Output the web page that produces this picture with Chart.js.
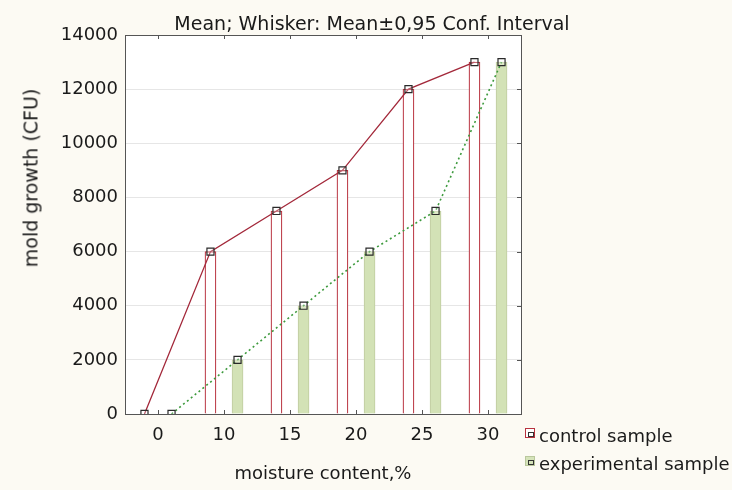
<!DOCTYPE html>
<html>
<head>
<meta charset="utf-8">
<script src="https://cdn.jsdelivr.net/npm/chart.js@4/dist/chart.umd.min.js"></script>
<style>
    html, body { margin: 0; padding: 0; background: #fcfaf3; }
    #wrap { position: relative; width: 732px; height: 490px; font-family: 'DejaVu Sans', sans-serif; color: #1a1a1a; overflow: hidden; }
    #chart { position: absolute; left: 0; top: 0; }
    .lbl { position: absolute; white-space: nowrap; font-size: 18px; line-height: 1; }
    #title { left: 372px; top: 14px; transform: translateX(-50%); font-size: 19px; }
    #xTitle { left: 323px; top: 464px; transform: translateX(-50%); }
    #yTitle { left: 31px; top: 178px; transform: translate(-50%, -50%) rotate(-90deg); font-size: 19px; }
    .leg { position: absolute; left: 525px; white-space: nowrap; font-size: 18px; line-height: 1; }
    .leg .box { position: absolute; left: 0; top: 1px; width: 10px; height: 10px; box-sizing: border-box; border: 1px solid; }
    .leg .box i { position: absolute; left: 1.5px; top: 2.5px; width: 4px; height: 3px; border: 1px solid #333; }
    .leg span.t { position: absolute; left: 14px; top: 0; }
</style>
</head>
<body>
<div id="wrap">
    <canvas id="chart" width="732" height="490"></canvas>
    <div class="lbl" id="title">Mean; Whisker: Mean±0,95 Conf. Interval</div>
    <div class="lbl" id="xTitle">moisture content,%</div>
    <div class="lbl" id="yTitle">mold growth (CFU)</div>
    <div class="leg" style="top:427px"><div class="box" style="background:#fff;border-color:#b8323f"><i></i></div><span class="t">control sample</span></div>
    <div class="leg" style="top:455px"><div class="box" style="background:#d5e3b9;border-color:#b9c79c"><i></i></div><span class="t">experimental sample</span></div>
</div>
<script>
// ===== Data =====
const moisture = ['0', '10', '15', '20', '25', '30'];
const controlSample = [0, 6000, 7500, 9000, 12000, 13000];
const experimentalSample = [0, 2000, 4000, 6000, 7500, 13000];
const yTicks = [0, 2000, 4000, 6000, 8000, 10000, 12000, 14000];

// ===== Layout =====
const SHIFT = 0.205;   // bar centre offset from the category centre (category units)
const BAR_W = 11;      // bar thickness in px

const FONT = { family: "'DejaVu Sans', sans-serif", size: 18 };

// bars + lines sit on a hidden linear axis so both series line up with each other
const toPoints = (vals, dir) => vals.map((v, i) => ({ x: i + dir * SHIFT, y: v }));

// ===== Plugins =====
const plotFrame = {
    id: 'plotFrame',
    beforeDraw(chart) {
        const { ctx, chartArea: a } = chart;
        ctx.save();
        ctx.fillStyle = '#ffffff';
        ctx.fillRect(a.left, a.top, a.right - a.left, a.bottom - a.top);
        ctx.restore();
    },
    afterDraw(chart) {
        const { ctx, chartArea: a, scales } = chart;
        ctx.save();
        ctx.strokeStyle = '#555';
        ctx.lineWidth = 1;
        ctx.strokeRect(a.left + 0.5, a.top + 0.5, a.right - a.left, a.bottom - a.top);
        ctx.beginPath();
        // inward ticks: top and bottom at category centres, right at y ticks
        scales.x.ticks.forEach((t, i) => {
            const px = Math.round(scales.x.getPixelForTick(i)) + 0.5;
            ctx.moveTo(px, a.top); ctx.lineTo(px, a.top + 4);
            ctx.moveTo(px, a.bottom); ctx.lineTo(px, a.bottom - 4);
        });
        yTicks.forEach(v => {
            const py = Math.round(scales.y.getPixelForValue(v)) + 0.5;
            ctx.moveTo(a.right, py); ctx.lineTo(a.right - 4, py);
        });
        ctx.stroke();
        ctx.restore();
    }
};

const markerStyle = {
    pointStyle: 'rect', pointRadius: 5, pointBorderWidth: 1.2,
    pointBorderColor: '#2a2a2a', pointBackgroundColor: 'rgba(255,255,255,0.25)'
};

// ===== Chart =====
const ctx = document.getElementById('chart').getContext('2d');
new Chart(ctx, {
    data: {
        labels: moisture,
        datasets: [
            {
                type: 'line', label: 'control line', xAxisID: 'xl', order: 1,
                data: toPoints(controlSample, -1),
                borderColor: '#a3283a', borderWidth: 1.3, tension: 0,
                ...markerStyle
            },
            {
                type: 'line', label: 'experimental line', xAxisID: 'xl', order: 1,
                data: toPoints(experimentalSample, 1),
                borderColor: '#3d9a3d', borderWidth: 1.6, borderDash: [2, 3], tension: 0,
                ...markerStyle
            },
            {
                type: 'bar', label: 'control sample', xAxisID: 'xl', order: 2,
                data: toPoints(controlSample, -1),
                backgroundColor: '#ffffff', borderColor: '#b8323f', borderWidth: 1.2,
                grouped: false, barThickness: BAR_W
            },
            {
                type: 'bar', label: 'experimental sample', xAxisID: 'xl', order: 2,
                data: toPoints(experimentalSample, 1),
                backgroundColor: '#d3e2b6', borderColor: '#bfcb9f', borderWidth: 1,
                grouped: false, barThickness: BAR_W
            }
        ]
    },
    options: {
        responsive: false,
        animation: false,
        layout: { padding: { top: 35, right: 211, bottom: 0, left: 0 } },
        plugins: { legend: { display: false }, title: { display: false }, tooltip: { enabled: false } },
        scales: {
            x: {
                type: 'category', offset: true,
                grid: { display: false, drawTicks: false },
                border: { display: false },
                ticks: { color: '#1a1a1a', font: FONT, padding: 11, maxRotation: 0 },
                afterFit: s => { s.height = 76; }
            },
            xl: {
                type: 'linear', display: false, min: -0.5, max: 5.5, offset: false
            },
            y: {
                min: 0, max: 14000,
                afterBuildTicks: s => { s.ticks = yTicks.map(v => ({ value: v })); },
                grid: { color: '#e6e6e6', lineWidth: 1, drawTicks: false },
                border: { display: false },
                ticks: { color: '#1a1a1a', font: FONT, padding: 7, callback: v => String(v) },
                afterFit: s => { s.width = 125; }
            }
        }
    },
    plugins: [plotFrame]
});
</script>
</body>
</html>
